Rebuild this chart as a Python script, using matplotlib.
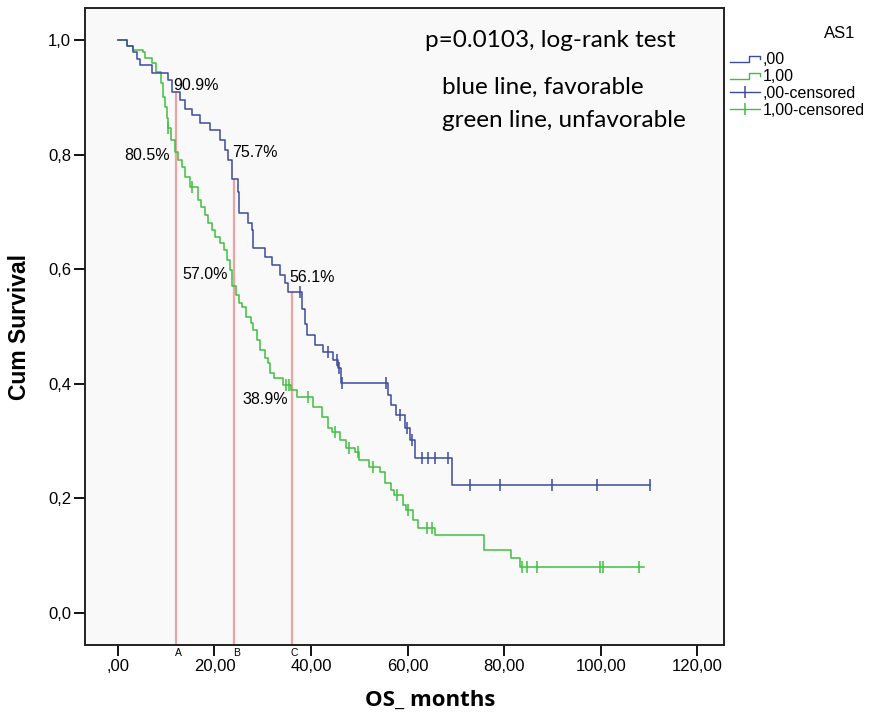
import numpy as np
import matplotlib
matplotlib.use("Agg")
import matplotlib.pyplot as plt
from matplotlib.lines import Line2D
from matplotlib.legend_handler import HandlerBase

# favorable group (AS1 = ,00) - blue
blue_t = [0, 1.9, 3.1, 3.9, 4.6, 7.0, 10.4, 11.2, 12.8, 13.9,
          15.3, 17.0, 19.0, 21.1, 22.2, 22.8, 23.6, 24.8, 25.1, 26.9,
          27.7, 28.0, 30.4, 31.9, 33.5, 34.6, 35.2, 38.1, 38.7, 39.1,
          40.8, 42.4, 44.5, 45.5, 46.2, 55.9, 56.6, 57.5, 59.4, 60.5,
          61.5, 69.2, 110.1]
blue_s = [1.0, 0.99, 0.98, 0.967, 0.956, 0.942, 0.93, 0.909, 0.895, 0.88,
          0.87, 0.856, 0.843, 0.825, 0.808, 0.79, 0.757, 0.735, 0.698, 0.68,
          0.668, 0.637, 0.621, 0.607, 0.59, 0.576, 0.561, 0.53, 0.505, 0.485,
          0.468, 0.455, 0.441, 0.428, 0.401, 0.38, 0.363, 0.346, 0.323, 0.302,
          0.27, 0.223, 0.223]
blue_cens = [37.7, 43.5, 45.3, 45.8, 46.4, 55.5, 58.5, 59.8, 60.9, 62.9,
             64.2, 65.6, 68.3, 72.9, 79.1, 89.9, 99.2, 110.1]

# unfavorable group (AS1 = 1,00) - green
green_t = [0, 1.9, 3.1, 5.2, 5.6, 7.0, 8.0, 8.9, 9.3, 9.7,
           10.2, 10.3, 11.0, 11.8, 12.4, 13.3, 13.9, 14.9, 16.6, 17.2,
           18.0, 18.6, 19.5, 20.2, 21.1, 21.9, 22.6, 23.2, 23.6, 24.4,
           25.0, 25.7, 26.5, 27.5, 28.0, 28.9, 29.5, 30.5, 31.0, 31.6,
           32.3, 34.2, 35.9, 37.0, 40.4, 42.2, 43.5, 44.3, 46.0, 47.2,
           49.2, 50.0, 52.0, 54.2, 55.3, 56.5, 57.1, 59.0, 59.6, 61.1,
           62.1, 65.6, 75.9, 81.5, 83.2, 109.0]
green_s = [1.0, 0.99, 0.983, 0.979, 0.969, 0.96, 0.944, 0.925, 0.9, 0.883,
           0.864, 0.846, 0.825, 0.805, 0.79, 0.778, 0.761, 0.743, 0.72, 0.708,
           0.695, 0.68, 0.668, 0.656, 0.646, 0.633, 0.616, 0.599, 0.57, 0.555,
           0.541, 0.534, 0.517, 0.506, 0.494, 0.476, 0.459, 0.445, 0.436, 0.419,
           0.41, 0.398, 0.389, 0.377, 0.36, 0.342, 0.323, 0.316, 0.302, 0.288,
           0.281, 0.267, 0.255, 0.246, 0.227, 0.215, 0.206, 0.188, 0.18, 0.162,
           0.148, 0.136, 0.11, 0.096, 0.08, 0.08]
green_cens = [10.4, 15.3, 34.8, 35.5, 39.3, 45.0, 47.8, 49.7, 52.9, 57.8,
              60.0, 64.0, 65.0, 83.6, 84.7, 86.7, 99.8, 100.4, 108.0]

# reference lines at 12 / 24 / 36 months
ref_t = [12, 24, 36]
ref_top = [0.909, 0.757, 0.561]
ref_lab = ["A", "B", "C"]

# percentage labels (x, y, text, alignment)
pct_x = [11.4, 10.8, 23.6, 22.8, 35.6, 35.2]
pct_y = [0.921, 0.799, 0.803, 0.59, 0.586, 0.372]
pct_txt = ["90.9%", "80.5%", "75.7%", "57.0%", "56.1%", "38.9%"]
pct_ha = ["left", "right", "left", "right", "left", "right"]

xticks = [0, 20, 40, 60, 80, 100, 120]
xtick_lab = [",00", "20,00", "40,00", "60,00", "80,00", "100,00", "120,00"]
yticks = [0.0, 0.2, 0.4, 0.6, 0.8, 1.0]
ytick_lab = ["0,0", "0,2", "0,4", "0,6", "0,8", "1,0"]

BLUE = "#3d4b9e"
GREEN = "#3fbf3f"
RED = "#eaa4a4"


def surv_at(t, s, c):
    t = np.array(t); s = np.array(s)
    idx = np.searchsorted(t, c, side="right") - 1
    return s[idx]


class StepHandler(HandlerBase):
    # step shaped legend icon, like SPSS
    def create_artists(self, legend, orig_handle, xdescent, ydescent,
                       width, height, fontsize, trans):
        x0 = -xdescent
        xs = [x0, x0 + 0.62 * width, x0 + 0.62 * width, x0 + width, x0 + width]
        ys = [0.15 * height, 0.15 * height, 0.75 * height, 0.75 * height, 0.45 * height]
        ln = Line2D(xs, ys, color=orig_handle.get_color(), lw=1.0)
        ln.set_transform(trans)
        return [ln]


plt.rcParams["font.family"] = ["Liberation Sans", "DejaVu Sans"]

fig = plt.figure(figsize=(8.72, 7.18), dpi=100)
ax = fig.add_axes([85 / 872, 1 - 645 / 718, (724 - 85) / 872, (645 - 8) / 718])
ax.set_facecolor("#f9f9f9")

ax.set_xlim(-6.8, 125.5)
ax.set_ylim(-0.056, 1.056)

# reference lines
for x, top in zip(ref_t, ref_top):
    ax.vlines(x, -0.056, top, color=RED, lw=1.6, zorder=1)
for x, lab in zip(ref_t, ref_lab):
    ax.text(x + 0.6, -0.062, lab, fontsize=7.5, ha="center", va="top",
            clip_on=False)

hb, = ax.step(blue_t, blue_s, where="post", color=BLUE, lw=1.1, zorder=3)
hg, = ax.step(green_t, green_s, where="post", color=GREEN, lw=1.1, zorder=2)
ax.plot(blue_cens, surv_at(blue_t, blue_s, blue_cens), ls="none", marker="|",
        ms=8, mew=1.1, color=BLUE, zorder=3)
ax.plot(green_cens, surv_at(green_t, green_s, green_cens), ls="none", marker="|",
        ms=8, mew=1.1, color=GREEN, zorder=2)

for x, y, t, ha in zip(pct_x, pct_y, pct_txt, pct_ha):
    ax.text(x, y, t, fontsize=11.5, ha=ha, va="center", zorder=5)

ax.text(63.6, 1.0, "p=0.0103, log-rank test", fontsize=17.5, family="Lato",
        ha="left", va="center")
ax.text(67.1, 0.918, "blue line, favorable", fontsize=17.5, family="Lato",
        ha="left", va="center")
ax.text(67.1, 0.859, "green line, unfavorable", fontsize=17.5, family="Lato",
        ha="left", va="center")

ax.set_xticks(xticks)
ax.set_xticklabels(xtick_lab)
ax.set_yticks(yticks)
ax.set_yticklabels(ytick_lab)
ax.tick_params(direction="out", length=8, width=1.3, labelsize=12, pad=2)

for sp in ax.spines.values():
    sp.set_linewidth(1.4)
    sp.set_color("#222222")

ax.set_xlabel("OS_ months", fontsize=16, fontweight="bold", family="Open Sans")
ax.xaxis.set_label_coords(0.54, -0.071)
ax.set_ylabel("Cum Survival", fontsize=16.5, fontweight="bold", labelpad=12)

# legend
h_c0 = Line2D([], [], color=BLUE, marker="|", ms=9, mew=1.1, lw=1.0)
h_c1 = Line2D([], [], color=GREEN, marker="|", ms=9, mew=1.1, lw=1.0)
leg = fig.legend([hb, hg, h_c0, h_c1], [",00", "1,00", ",00-censored", "1,00-censored"],
                 handler_map={hb: StepHandler(), hg: StepHandler()},
                 loc="upper left", bbox_to_anchor=(730 / 872, 1 - 52 / 718),
                 frameon=False, fontsize=11.5, handlelength=1.9, handletextpad=0.15,
                 labelspacing=0.12, borderpad=0, borderaxespad=0, numpoints=1)
fig.text(840 / 872, 1 - 33 / 718, "AS1", fontsize=12, ha="center", va="center")

fig.savefig("out.png", dpi=100)
